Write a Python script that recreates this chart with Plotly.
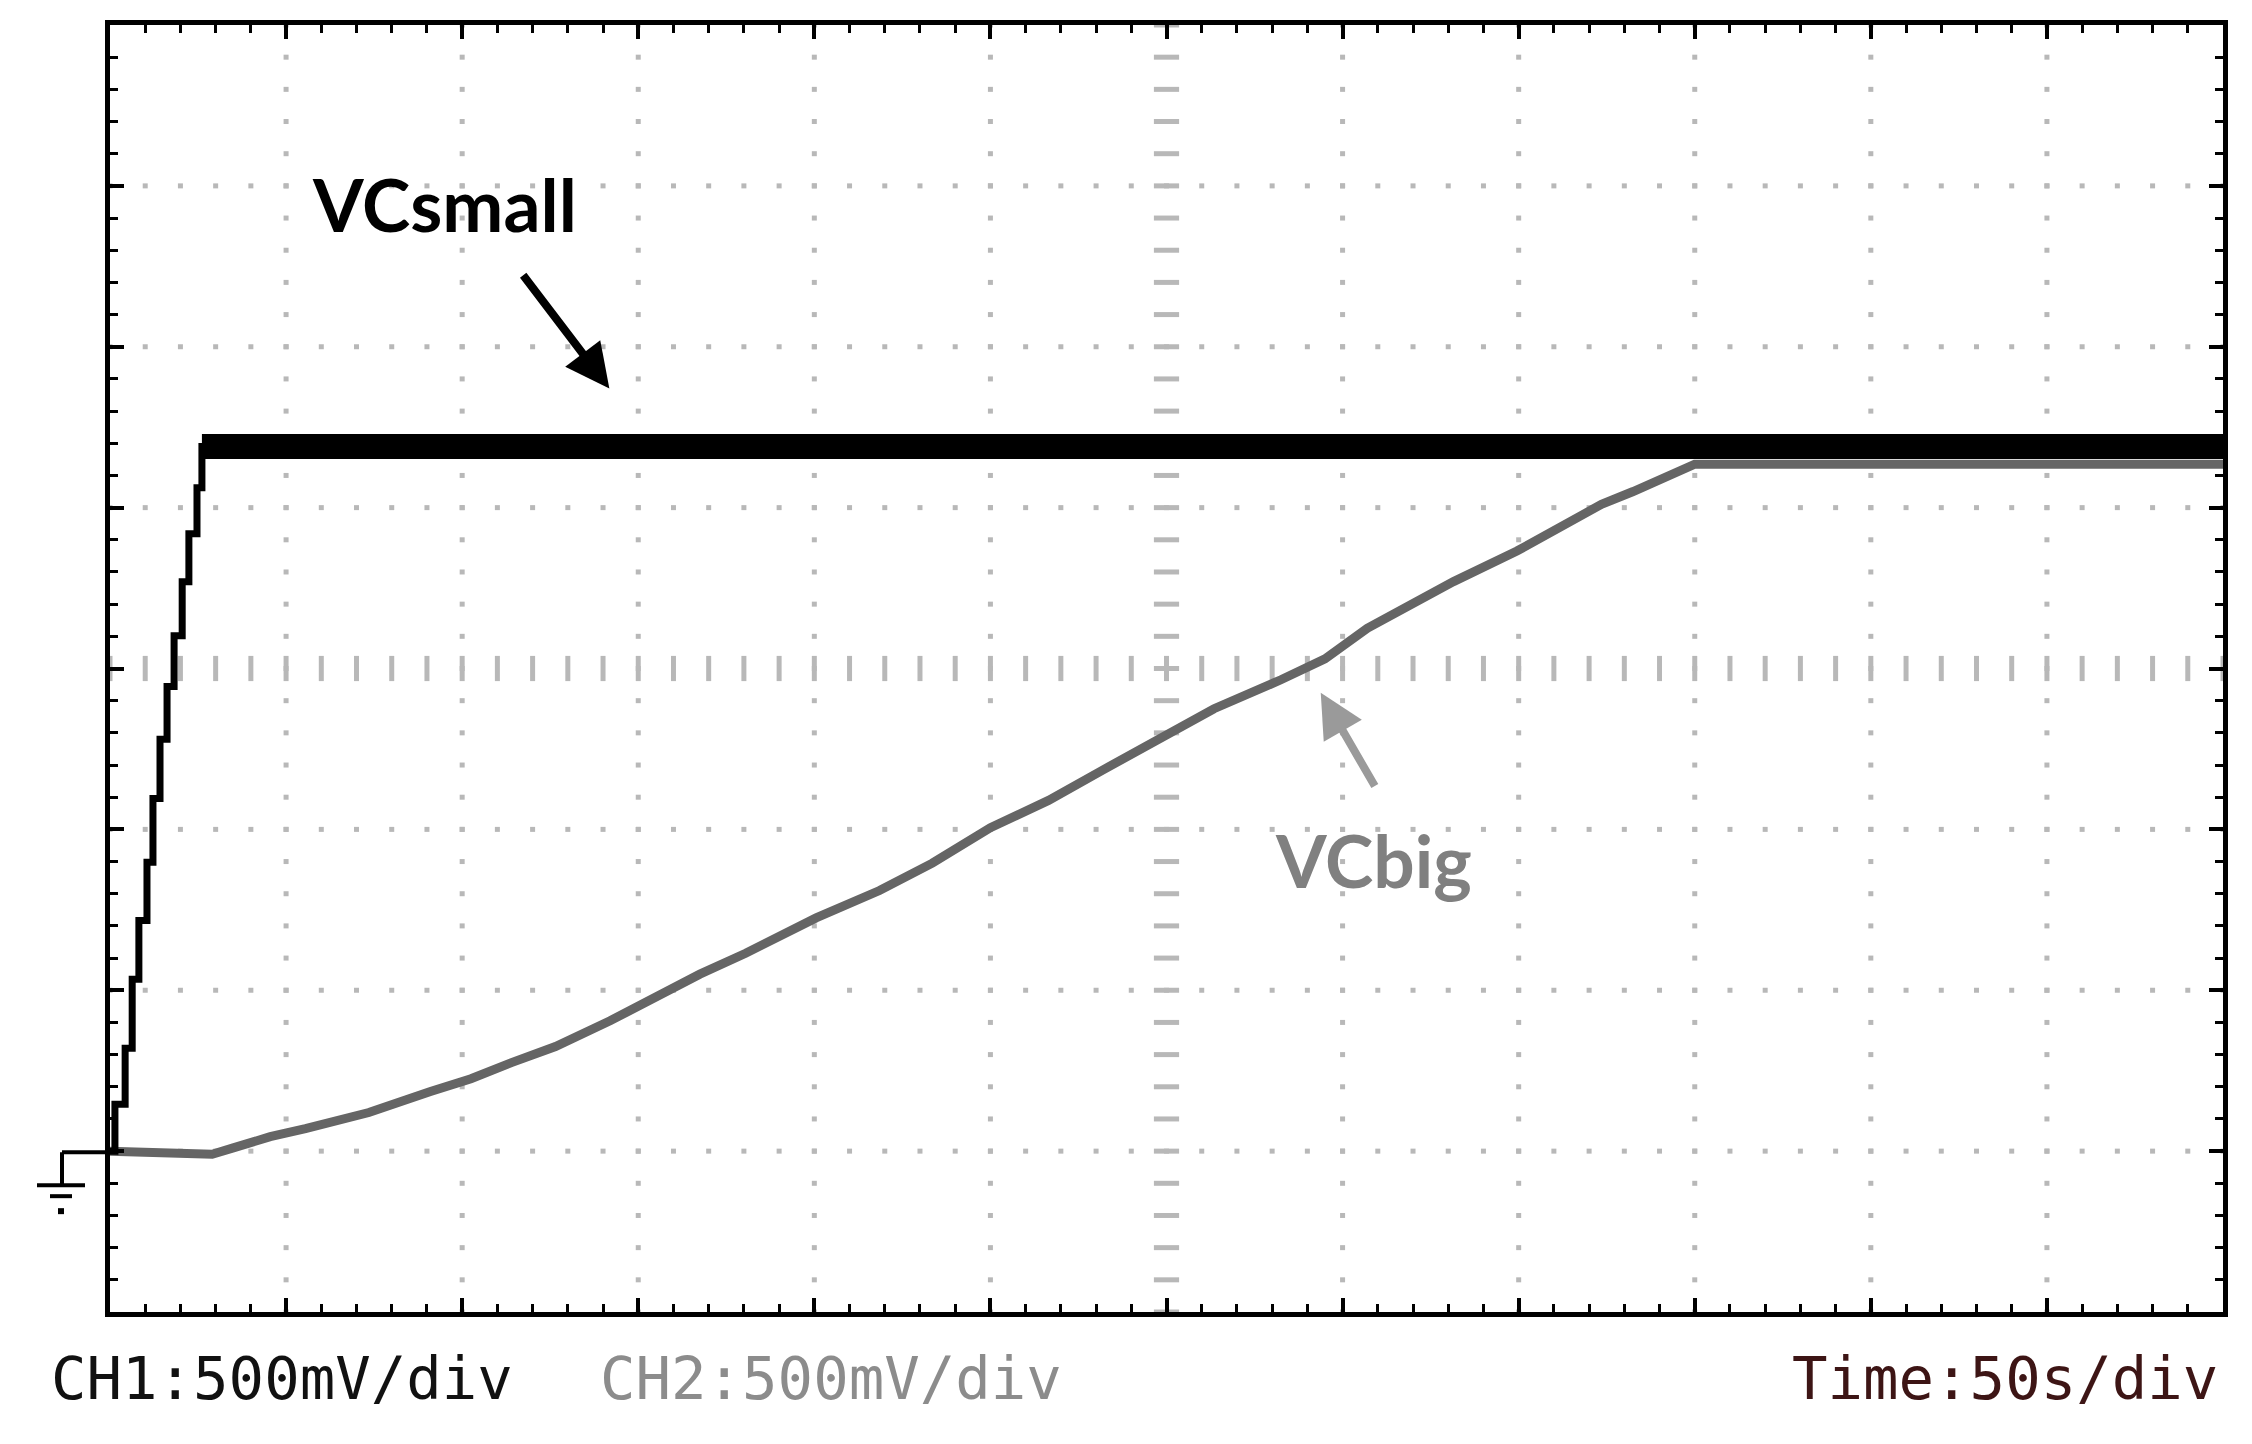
import numpy as np
import plotly.graph_objects as go

# Oscilloscope capture: time in s (50 s/div), voltage in V (500 mV/div)
vcsmall_t = [0.0, 1.4, 4.3, 6.3, 8.2, 10.5, 12.2, 14.2, 16.2, 18.2, 20.5, 22.4, 24.7, 26.1, 27.0]
vcsmall_v = [0.0, 0.0, 0.146, 0.32, 0.534, 0.717, 0.898, 1.096, 1.28, 1.444, 1.602, 1.77, 1.919, 2.062, 2.19]
vcsmall_plateau_t = [26.1, 600.0]
vcsmall_plateau_v = [2.19, 2.19]

vcbig_t = [0, 29, 35, 45.5, 55.5, 73.5, 91, 102.5, 114, 126.5, 142, 157, 167.5, 180.5,
           200.5, 218.5, 233.5, 250, 266.5, 282, 299.5, 313.5, 332.5, 345, 357, 369.5,
           381.5, 399.5, 412, 423.5, 432.5, 442.5, 447, 450, 600]
vcbig_v = [0, -0.01, 0.01, 0.045, 0.07, 0.12, 0.185, 0.225, 0.275, 0.325, 0.405, 0.49, 0.55, 0.615,
           0.725, 0.81, 0.895, 1.005, 1.09, 1.185, 1.29, 1.375, 1.465, 1.53, 1.625, 1.70,
           1.77, 1.865, 1.94, 2.01, 2.05, 2.095, 2.12, 2.135, 2.135]

ch1_label = "CH1:500mV/div"
ch2_label = "CH2:500mV/div"
time_label = "Time:50s/div"

T_MIN, T_MAX, T_DIV = 0, 600, 50
V_MIN, V_MAX, V_DIV = -0.5, 3.5, 0.5
T_CENTER, V_CENTER = 300, 1.5

fig = go.Figure()

# dotted graticule
dot_color = "#b8b8b8"
sub_v = np.round(np.arange(V_MIN, V_MAX + 1e-9, V_DIV / 5), 3)
sub_t = np.round(np.arange(T_MIN, T_MAX + 1e-9, T_DIV / 5), 3)
vx, vy = [], []
for t in range(T_MIN + T_DIV, T_MAX, T_DIV):
    if t == T_CENTER:
        continue
    vx += [t] * len(sub_v)
    vy += list(sub_v)
for v in np.arange(V_MIN + V_DIV, V_MAX - 1e-9, V_DIV):
    if abs(v - V_CENTER) < 1e-9:
        continue
    vx += list(sub_t)
    vy += [v] * len(sub_t)
fig.add_trace(go.Scatter(x=vx, y=vy, mode="markers", hoverinfo="skip",
                         marker=dict(symbol="square", size=5, color=dot_color, line=dict(width=0))))
# center cross with dashes
fig.add_trace(go.Scatter(x=[T_CENTER] * len(sub_v), y=sub_v, mode="markers", hoverinfo="skip",
                         marker=dict(symbol="line-ew", size=18, line=dict(width=5, color=dot_color))))
fig.add_trace(go.Scatter(x=sub_t, y=[V_CENTER] * len(sub_t), mode="markers", hoverinfo="skip",
                         marker=dict(symbol="line-ns", size=18, line=dict(width=5, color=dot_color))))

# traces
fig.add_trace(go.Scatter(x=vcbig_t, y=vcbig_v, mode="lines",
                         line=dict(color="#656565", width=9)))
fig.add_trace(go.Scatter(x=vcsmall_t, y=vcsmall_v, mode="lines",
                         line=dict(color="black", width=7, shape="vh")))
fig.add_trace(go.Scatter(x=vcsmall_plateau_t, y=vcsmall_plateau_v, mode="lines",
                         line=dict(color="black", width=25)))

# labels and arrows
fig.add_annotation(x=94.9, y=2.945, text="<b>VCsmall</b>", showarrow=False,
                   font=dict(family="Lato", size=73, color="black"))
fig.add_annotation(x=141.8, y=2.37, ax=117.0, ay=2.727, axref="x", ayref="y", text="",
                   showarrow=True, arrowhead=2, arrowsize=1.1, arrowwidth=8, arrowcolor="black")
fig.add_annotation(x=358.8, y=0.905, text="<b>VCbig</b>", showarrow=False,
                   font=dict(family="Lato", size=73, color="#808080"))
fig.add_annotation(x=343.8, y=1.425, ax=359.4, ay=1.13, axref="x", ayref="y", text="",
                   showarrow=True, arrowhead=2, arrowsize=1.1, arrowwidth=8, arrowcolor="#9a9a9a")

# bottom readout
mono = "DejaVu Sans Mono"
fig.add_annotation(x=-0.029, y=-0.052, xref="paper", yref="paper", xanchor="left", yanchor="middle",
                   text=ch1_label, showarrow=False, font=dict(family=mono, size=59, color="#111111"))
fig.add_annotation(x=0.231, y=-0.052, xref="paper", yref="paper", xanchor="left", yanchor="middle",
                   text=ch2_label, showarrow=False, font=dict(family=mono, size=59, color="#8c8c8c"))
fig.add_annotation(x=0.9985, y=-0.052, xref="paper", yref="paper", xanchor="right", yanchor="middle",
                   text=time_label, showarrow=False, font=dict(family=mono, size=59, color="#3d1515"))

# ground reference marker (left of the screen), positions in screen pixels
W, L, T, B = 2113, 110, 23, 1312
def px(x):
    return (x - L) / W
def py(y):
    return (B - y) / (B - T)
g = dict(color="black", width=4)
for x0, y0, x1, y1 in [(62, 1152, 110, 1152), (62, 1152, 62, 1185),
                       (37, 1185, 85, 1185), (50, 1196, 72, 1196)]:
    fig.add_shape(type="line", xref="paper", yref="paper",
                  x0=px(x0), y0=py(y0), x1=px(x1), y1=py(y1), line=g)
fig.add_shape(type="rect", xref="paper", yref="paper", x0=px(58), x1=px(64),
              y0=py(1208), y1=py(1214), fillcolor="black", line=dict(width=0))

axis_common = dict(showgrid=False, zeroline=False, showticklabels=False,
                   showline=True, linecolor="black", linewidth=5, mirror="ticks",
                   ticks="inside", ticklen=14, tickwidth=4, tickcolor="black")
fig.update_xaxes(range=[T_MIN, T_MAX], dtick=T_DIV, tick0=0,
                 minor=dict(dtick=T_DIV / 5, ticks="inside", ticklen=8, tickwidth=3, tickcolor="black"),
                 **axis_common)
fig.update_yaxes(range=[V_MIN, V_MAX], dtick=V_DIV, tick0=0,
                 minor=dict(dtick=V_DIV / 5, ticks="inside", ticklen=8, tickwidth=3, tickcolor="black"),
                 **axis_common)

# page body has an 8px margin, so the figure is drawn 8px smaller and offset
fig.update_layout(width=2244, height=1436, showlegend=False,
                  margin=dict(l=102, r=29, t=15, b=132),
                  plot_bgcolor="white", paper_bgcolor="white")

fig.write_html("out.html")
